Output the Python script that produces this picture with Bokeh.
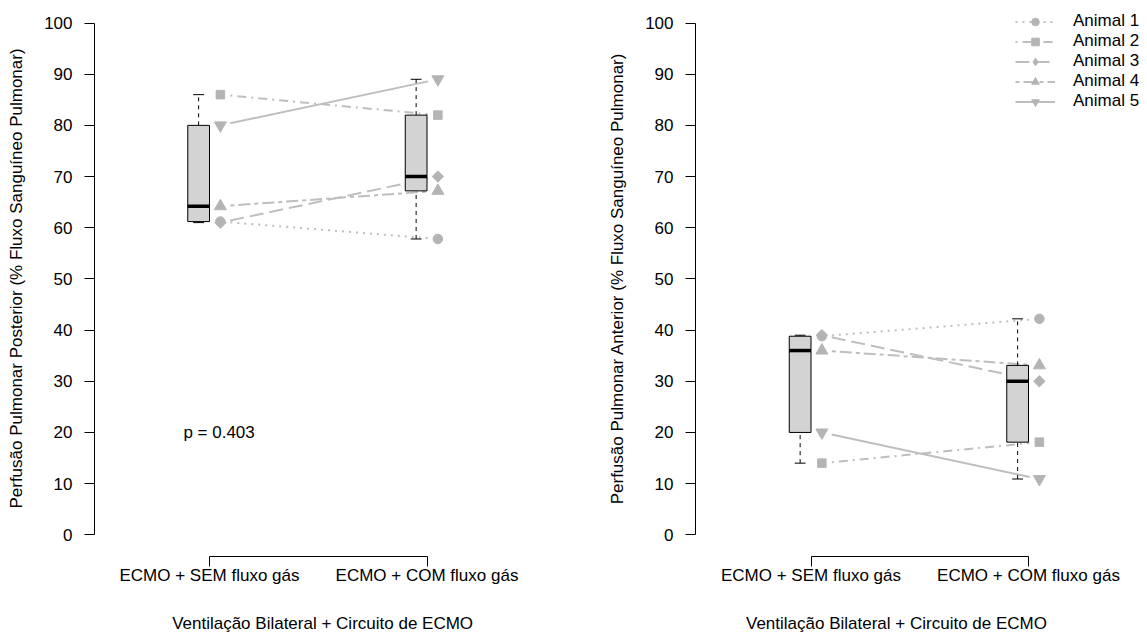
import math
import numpy as np
from bokeh.plotting import figure
from bokeh.layouts import row
from bokeh.models import Range1d, FixedTicker, Legend, LegendItem, ColumnDataSource, LinearAxis
from bokeh.core.properties import value
from bokeh.embed import file_html
from bokeh.resources import INLINE

# ---------------- data ----------------
ANIMALS = ["Animal 1", "Animal 2", "Animal 3", "Animal 4", "Animal 5"]
GROUPS = ["ECMO + SEM fluxo gás", "ECMO + COM fluxo gás"]
POST_SEM = [61.2, 86.0, 61.0, 64.2, 80.0]
POST_COM = [57.8, 82.0, 70.0, 67.2, 89.0]
ANT_SEM = [38.8, 14.0, 39.0, 36.0, 20.0]
ANT_COM = [42.2, 18.1, 30.0, 33.1, 10.9]
Y_TICKS = [0, 10, 20, 30, 40, 50, 60, 70, 80, 90, 100]
P_TEXT = "p = 0.403"
XLAB = "Ventilação Bilateral + Circuito de ECMO"
YLAB_POST = "Perfusão Pulmonar Posterior (% Fluxo Sanguíneo Pulmonar)"
YLAB_ANT = "Perfusão Pulmonar Anterior (% Fluxo Sanguíneo Pulmonar)"

# ---------------- style ----------------
FONT = "Liberation Sans"
FS = "17px"
# R pch 16, 15, 18, 17 and a filled down-triangle
MARKERS = ["circle", "square", "square", "triangle", "inverted_triangle"]
MSIZES = [9.5, 8.5, 8, 12, 12]
MANGLES = [0, 0, math.pi / 4, 0, 0]
LEGEND_MARKERS = ["circle", "square", "diamond", "triangle", "inverted_triangle"]
LEGEND_MSIZES = [9.5, 8.5, 13, 12, 12]
DASHES = ["2 5", "2 5 9 5", "14 6", "4 4 12 4", "solid"]
LINE_COL = "#BEBEBE"
MARK_COL = "#B4B4B4"
BOX_FILL = "#D3D3D3"

# ---------------- geometry (pixels) ----------------
PXX = 217.5          # px per x unit
PXY = 5.118          # px per y unit
Y0_PX = 534.3        # canvas y of value 0
FRAME_H = 556
H = 636
BORDER_L = 94
Y_TOP = Y0_PX / PXY
Y_BOT = (Y0_PX - FRAME_H) / PXY
BOX_OFF = -0.05
PT_OFF = 0.05
BOX_HW = 0.05
CAP_HW = 0.025
GAP_PX = 10


def fivenum(v):
    s = sorted(v)
    n = len(s)
    n4 = math.floor((n + 3) / 2) / 2
    d = [1, n4, (n + 1) / 2, n + 1 - n4, n]
    return [0.5 * (s[math.floor(i) - 1] + s[math.ceil(i) - 1]) for i in d]


def box_stats(v):
    mn, q1, med, q3, mx = fivenum(v)
    iqr = q3 - q1
    lo = min(x for x in v if x >= q1 - 1.5 * iqr)
    hi = max(x for x in v if x <= q3 + 1.5 * iqr)
    return lo, q1, med, q3, hi


def make_panel(sem, com, ylab, width, tick1_off, xlab_off, ptext=None, legend=False):
    # tick1_off: px from frame left to x=1 ; xlab_off: px from frame left to xlabel centre
    frame_w = width - BORDER_L
    x_lo = 1 - tick1_off / PXX
    x_hi = x_lo + frame_w / PXX
    p = figure(width=width, height=H, output_backend="svg", toolbar_location=None,
               x_range=Range1d(x_lo, x_hi), y_range=Range1d(Y_BOT, Y_TOP),
               min_border_left=BORDER_L, min_border_right=0, min_border_top=0,
               min_border_bottom=H - FRAME_H)
    p.outline_line_color = None
    p.grid.visible = False
    p.background_fill_color = "white"
    p.border_fill_color = "white"

    # axes
    xa = p.xaxis[0]
    xa.ticker = FixedTicker(ticks=[1, 2])
    xa.major_label_overrides = {1: GROUPS[0], 2: GROUPS[1]}
    xa.bounds = (1, 2)
    xa.major_label_standoff = -1
    ya = p.yaxis[0]
    ya.ticker = FixedTicker(ticks=Y_TICKS)
    ya.bounds = (Y_TICKS[0], Y_TICKS[-1])
    ya.axis_label = ylab
    ya.axis_label_text_font_style = "normal"
    ya.axis_label_text_font = FONT
    ya.axis_label_text_font_size = FS
    ya.axis_label_text_color = "black"
    ya.axis_label_standoff = 15
    ya.major_label_standoff = 12

    # x-axis title as a tick-less second axis (centred where the reference has it)
    xc = round(x_lo + xlab_off / PXX, 3)
    xl = LinearAxis(ticker=FixedTicker(ticks=[xc]), major_label_overrides={xc: XLAB},
                    axis_line_color=None, major_label_standoff=26)
    p.add_layout(xl, "below")

    for ax in (xa, ya, xl):
        ax.major_tick_out = 10 if ax is not xl else 0
        ax.major_tick_in = 0
        ax.minor_tick_out = 0
        ax.minor_tick_in = 0
        if ax is not xl:
            ax.axis_line_color = "black"
        ax.major_tick_line_color = "black"
        ax.major_label_text_font = FONT
        ax.major_label_text_font_size = FS
        ax.major_label_text_color = "black"

    # animal lines (type="b": gaps around points)
    seg_r, sc_r = [], []
    for i in range(len(ANIMALS)):
        xa0, ya0 = 1 + PT_OFF, sem[i]
        xb0, yb0 = 2 + PT_OFF, com[i]
        dxp = (xb0 - xa0) * PXX
        dyp = (yb0 - ya0) * PXY
        L = math.hypot(dxp, dyp)
        t = GAP_PX / L
        src = ColumnDataSource(dict(
            x0=[xa0 + t * (xb0 - xa0)], y0=[ya0 + t * (yb0 - ya0)],
            x1=[xb0 - t * (xb0 - xa0)], y1=[yb0 - t * (yb0 - ya0)]))
        r = p.segment("x0", "y0", "x1", "y1", source=src, line_color=LINE_COL,
                      line_width=2, line_dash=DASHES[i])
        seg_r.append(r)

    # boxplots
    for gx, vals in ((1, sem), (2, com)):
        lo, q1, med, q3, hi = box_stats(vals)
        c = gx + BOX_OFF
        p.segment(x0=[c, c], y0=[q3, lo], x1=[c, c], y1=[hi, q1],
                  line_color="black", line_width=1, line_dash="4 4")
        p.segment(x0=[c - CAP_HW, c - CAP_HW], y0=[hi, lo], x1=[c + CAP_HW, c + CAP_HW],
                  y1=[hi, lo], line_color="black", line_width=1)
        p.quad(left=[c - BOX_HW], right=[c + BOX_HW], bottom=[q1], top=[q3],
               fill_color=BOX_FILL, line_color="black", line_width=1)
        p.segment(x0=[c - BOX_HW], y0=[med], x1=[c + BOX_HW], y1=[med],
                  line_color="black", line_width=3.5)

    # points
    for i in range(len(ANIMALS)):
        r = p.scatter([1 + PT_OFF, 2 + PT_OFF], [sem[i], com[i]], marker=MARKERS[i],
                      size=MSIZES[i], angle=MANGLES[i], fill_color=MARK_COL,
                      line_color=MARK_COL)
        sc_r.append(r)

    if ptext is not None:
        p.text(x=[1.044], y=[20], text=[ptext], text_font=value(FONT),
               text_font_size=value(FS), text_align="center", text_baseline="middle",
               text_color="black")

    if legend:
        items = []
        for i in range(len(ANIMALS)):
            # legend-only marker renderer (one NaN point, never drawn in the plot)
            key_src = ColumnDataSource(dict(x=np.array([np.nan]), y=np.array([np.nan])))
            key = p.scatter("x", "y", source=key_src, marker=LEGEND_MARKERS[i],
                            size=LEGEND_MSIZES[i], fill_color=MARK_COL, line_color=MARK_COL)
            items.append(LegendItem(label=ANIMALS[i], renderers=[seg_r[i], key]))
        lg = Legend(items=items, location=(1015 - 695, 445),
                    glyph_width=40, glyph_height=19, label_height=19, label_standoff=18,
                    label_text_line_height=1.0,
                    spacing=0, padding=0, margin=0, border_line_color=None,
                    background_fill_alpha=0, label_text_font=FONT,
                    label_text_font_size=FS, label_text_color="black")
        p.add_layout(lg)
    return p


# left panel: frame starts at x=94, x=1 at 209, x-title centred at 322
p1 = make_panel(POST_SEM, POST_COM, YLAB_POST, 601, 209 - 94, 322 - 94, ptext=P_TEXT)
# right panel: frame starts at x=695, x=1 at 810.5, x-title centred at 896
p2 = make_panel(ANT_SEM, ANT_COM, YLAB_ANT, 546, 810.5 - 695, 896 - 695, legend=True)

layout = row(p1, p2)
open("out.html", "w").write(file_html(layout, INLINE))
